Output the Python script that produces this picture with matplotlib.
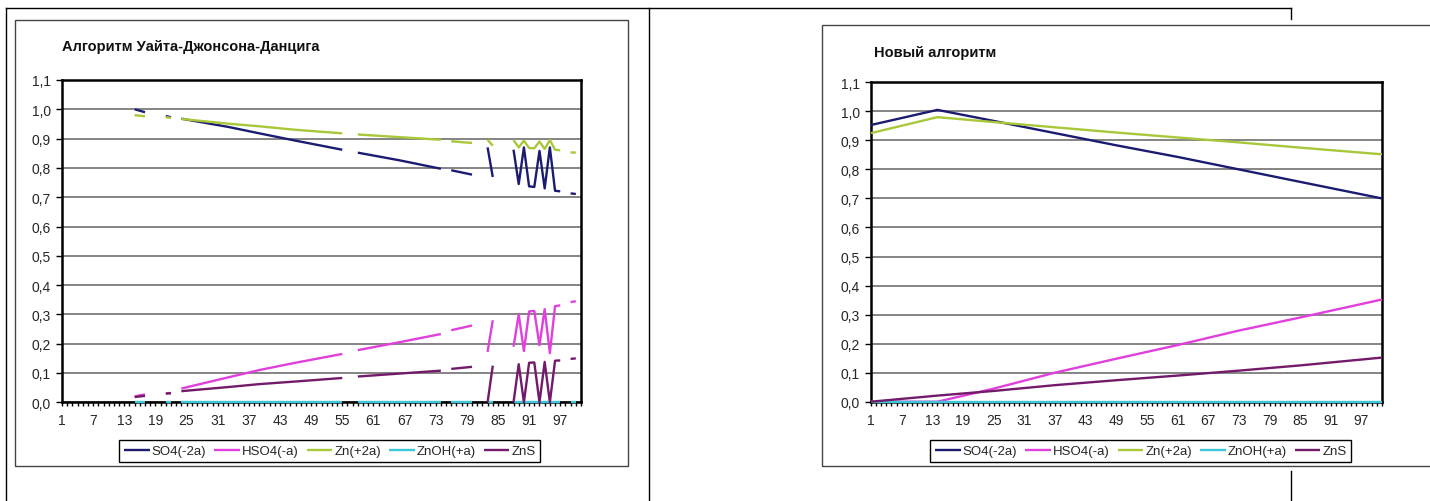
import matplotlib
matplotlib.use('Agg')
import matplotlib.pyplot as plt
from matplotlib.lines import Line2D
from matplotlib.patches import Rectangle

plt.rcParams['font.family'] = ['Liberation Sans', 'DejaVu Sans']

W, H = 1430, 502

# ---------------- data ----------------
series_names = ['SO4(-2a)', 'HSO4(-a)', 'Zn(+2a)', 'ZnOH(+a)', 'ZnS']
series_colors = ['#1b1b72', '#e040dc', '#a8c83a', '#3cc8d8', '#741a6a']

n_categories = 101
x_tick_labels = ['1', '7', '13', '19', '25', '31', '37', '43', '49', '55',
                 '61', '67', '73', '79', '85', '91', '97']
y_tick_values = [0.0, 0.1, 0.2, 0.3, 0.4, 0.5, 0.6, 0.7, 0.8, 0.9, 1.0, 1.1]
y_tick_labels = ['0,0', '0,1', '0,2', '0,3', '0,4', '0,5', '0,6', '0,7',
                 '0,8', '0,9', '1,0', '1,1']

title_left = 'Алгоритм Уайта-Джонсона-Данцига'
title_right = 'Новый алгоритм'

nan = float('nan')

# Left chart (White-Johnson-Dantzig): points by category, nan = empty cell (gap)
wjd_cat = [15, 17, nan, 21, 22, nan, 24, 33, 39, 46, 55, nan, 58, 66, 74, nan,
           76, 80, nan, 83, 84, nan, 88, 89, 90, 91, 92, 93, 94, 95, 96, 97,
           nan, 99, 100]
wjd_so4 = [1.000, 0.990, nan, 0.977, 0.973, nan, 0.968, 0.940, 0.918, 0.893, 0.862, nan,
           0.852, 0.826, 0.797, nan, 0.792, 0.777, nan, 0.870, 0.769, nan,
           0.862, 0.745, 0.870, 0.737, 0.735, 0.858, 0.730, 0.870, 0.722, 0.720,
           nan, 0.713, 0.711]
wjd_hso4 = [0.020, 0.027, nan, 0.030, 0.032, nan, 0.047, 0.085, 0.110, 0.135, 0.165, nan,
            0.178, 0.205, 0.233, nan, 0.246, 0.262, nan, 0.172, 0.280, nan,
            0.190, 0.300, 0.175, 0.310, 0.312, 0.195, 0.318, 0.168, 0.328, 0.331,
            nan, 0.342, 0.345]
wjd_zn = [0.980, 0.976, nan, 0.973, 0.971, nan, 0.967, 0.951, 0.942, 0.930, 0.918, nan,
          0.914, 0.905, 0.896, nan, 0.891, 0.885, nan, 0.896, 0.876, nan,
          0.895, 0.870, 0.893, 0.868, 0.867, 0.890, 0.865, 0.895, 0.862, 0.860,
          nan, 0.853, 0.852]
wjd_znoh = [0.0, 0.0, nan, 0.0, 0.0, nan, 0.0, 0.0, 0.0, 0.0, 0.0, nan,
            0.0, 0.0, 0.0, nan, 0.0, 0.0, nan, 0.0, 0.0, nan,
            0.0, 0.0, 0.0, 0.0, 0.0, 0.0, 0.0, 0.0, 0.0, 0.0,
            nan, 0.0, 0.0]
wjd_zns = [0.018, 0.022, nan, 0.030, 0.031, nan, 0.038, 0.052, 0.062, 0.071, 0.083, nan,
           0.088, 0.098, 0.108, nan, 0.114, 0.121, nan, 0.000, 0.125, nan,
           0.000, 0.130, 0.000, 0.135, 0.136, 0.000, 0.138, 0.000, 0.142, 0.143,
           nan, 0.148, 0.150]

# Right chart (new algorithm)
new_cat = [1, 14, 25, 37, 49, 61, 73, 85, 101]
new_so4 = [0.953, 1.005, 0.967, 0.925, 0.883, 0.843, 0.800, 0.757, 0.700]
new_hso4 = [0.000, 0.000, 0.045, 0.100, 0.148, 0.195, 0.245, 0.290, 0.352]
new_zn = [0.925, 0.980, 0.963, 0.945, 0.927, 0.910, 0.893, 0.875, 0.852]
new_znoh = [0.000, 0.000, 0.000, 0.000, 0.000, 0.000, 0.000, 0.000, 0.000]
new_zns = [0.000, 0.021, 0.037, 0.057, 0.074, 0.090, 0.107, 0.125, 0.152]

# ---------------- drawing ----------------
fig = plt.figure(figsize=(W / 100, H / 100), dpi=100)
fig.patch.set_facecolor('white')


def fx(px):
    return px / W


def fy(py):
    return 1 - py / H


def line(x0, y0, x1, y1, color='black', lw=1.0):
    fig.add_artist(Line2D([fx(x0), fx(x1)], [fy(y0), fy(y1)],
                          transform=fig.transFigure, color=color, lw=lw))


# page/table lines
line(5.7, 9.3, 1291, 9.3)
line(5.7, 9.3, 5.7, 502)
line(649, 9.3, 649, 502)
line(1291, 9.3, 1291, 20)
line(1291, 472, 1291, 502)

# chart frames
fig.add_artist(Rectangle((fx(15.3), fy(467.3)), fx(628.3) - fx(15.3), fy(20.7) - fy(467.3),
                         transform=fig.transFigure, fill=False, edgecolor='#454545', lw=1.0))
fig.add_artist(Rectangle((fx(821.7), fy(466.7)), fx(1445) - fx(821.7), fy(26) - fy(466.7),
                         transform=fig.transFigure, fill=False, edgecolor='#454545', lw=1.0))


def make_chart(rect, cats, series, title, title_xy, legend_center):
    ax = fig.add_axes(rect)
    handles = []
    for name, vals, color in zip(series_names, series, series_colors):
        h, = ax.plot(cats, vals, color=color, lw=1.7, clip_on=False, zorder=3,
                     solid_capstyle='butt', label=name)
        handles.append(h)
    ax.set_xlim(1, n_categories)
    ax.set_ylim(0, 1.1)
    ax.set_yticks(y_tick_values)
    ax.set_yticklabels(y_tick_labels)
    ax.set_xticks([int(t) for t in x_tick_labels])
    ax.set_xticklabels(x_tick_labels)
    ax.set_xticks(list(range(1, n_categories + 1)), minor=True)
    ax.yaxis.grid(True, color='#707070', lw=1.2)
    ax.set_axisbelow(True)
    for s in ax.spines.values():
        s.set_color('black')
        s.set_linewidth(1.8)
    ax.tick_params(axis='y', direction='out', length=4, width=1, labelsize=10,
                   pad=4, colors='black', labelcolor='#262626')
    ax.tick_params(axis='x', which='both', direction='out', length=3, width=1,
                   labelsize=10, pad=5, colors='black', labelcolor='#262626')
    fig.text(fx(title_xy[0]), fy(title_xy[1]), title, ha='left', va='center',
             fontsize=10.5, fontweight='bold', color='#111111')
    leg = ax.legend(handles, series_names, loc='center',
                    bbox_to_anchor=(fx(legend_center[0]), fy(legend_center[1])),
                    bbox_transform=fig.transFigure, ncol=5, frameon=True,
                    fancybox=False, edgecolor='black', framealpha=1,
                    fontsize=9.5, handlelength=1.95, handletextpad=0.15,
                    columnspacing=0.6, borderpad=0.35, borderaxespad=0)
    leg.get_frame().set_linewidth(1.0)
    for t in leg.get_texts():
        t.set_color('#262626')
    return ax


make_chart([fx(62), fy(403.3), fx(581) - fx(62), fy(81) - fy(403.3)],
           wjd_cat, [wjd_so4, wjd_hso4, wjd_zn, wjd_znoh, wjd_zns],
           title_left, (62, 47), (329.75, 452.2))
make_chart([fx(871), fy(402.7), fx(1382) - fx(871), fy(83.3) - fy(402.7)],
           new_cat, [new_so4, new_hso4, new_zn, new_znoh, new_zns],
           title_right, (874, 53), (1140.8, 452.2))

fig.savefig('out.png', dpi=100, facecolor='white')
